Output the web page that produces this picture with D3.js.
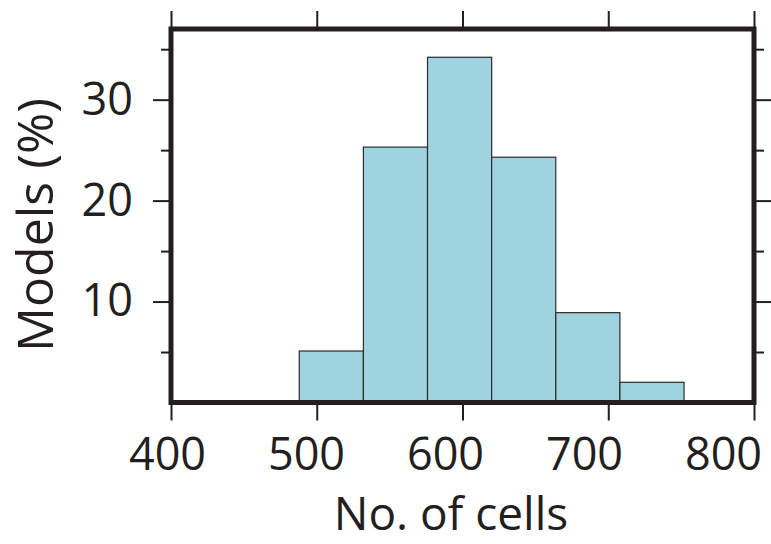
<!DOCTYPE html>
<html>
<head>
<meta charset="utf-8">
<script src="https://cdn.jsdelivr.net/npm/d3@7"></script>
<style>
  html, body { margin: 0; padding: 0; background: #fff; }
  svg { display: block; }
  text { font-family: "Open Sans", "Noto Sans", sans-serif; fill: #231f20; }
</style>
</head>
<body>
<svg id="chart" width="771" height="544"></svg>
<script>
// Data
const binEdges = [488, 532, 576, 620, 664, 708, 752];
const percentValues = [5.1, 25.3, 34.2, 24.3, 8.9, 2.0];
const xTicks = [400, 500, 600, 700, 800];
const yMajorTicks = [10, 20, 30];
const yMinorTicks = [5, 15, 25, 35];
const xLabel = "No. of cells";
const yLabel = "Models (%)";

const bins = percentValues.map((v, i) => ({x0: binEdges[i], x1: binEdges[i + 1], v}));

const svg = d3.select("#chart");
const pLeft = 171, pRight = 754, pTop = 29, pBottom = 402.5;
const x = d3.scaleLinear().domain([400, 800]).range([pLeft, pRight]);
// tick labels in the reference are laid out slightly tighter than the ticks
const xLab = d3.scaleLinear().domain([400, 800]).range([167, 723]);
const y = d3.scaleLinear().domain([0, 37]).range([pBottom, pTop]);
const ink = "#231f20";

// Bars
svg.append("g").selectAll("rect").data(bins).join("rect")
  .attr("x", d => x(d.x0))
  .attr("y", d => y(d.v))
  .attr("width", d => x(d.x1) - x(d.x0))
  .attr("height", d => y(0) - y(d.v))
  .attr("fill", "#9fd3e0")
  .attr("stroke", "#2b2b2b")
  .attr("stroke-width", 1.2);

function styleAxis(g) {
  g.select(".domain").remove();
  g.selectAll(".tick line").attr("stroke", ink).attr("stroke-width", 2);
}

// Bottom axis (labels)
const gb = svg.append("g").attr("transform", `translate(0,${pBottom + 2})`)
  .call(d3.axisBottom(x).tickValues(xTicks).tickSize(16).tickPadding(18).tickFormat(d3.format("d")));
styleAxis(gb);
gb.selectAll(".tick text")
  .attr("x", d => xLab(d) - x(d))
  .attr("font-size", 45).attr("fill", ink)
  .style("font-family", '"Open Sans", sans-serif');

// Top axis (ticks only)
const gt = svg.append("g").attr("transform", `translate(0,${pTop - 2})`)
  .call(d3.axisTop(x).tickValues(xTicks).tickSize(16).tickFormat(""));
styleAxis(gt);

// Left axis major with labels
const gl = svg.append("g").attr("transform", `translate(${pLeft - 2},0)`)
  .call(d3.axisLeft(y).tickValues(yMajorTicks).tickSize(16).tickPadding(20).tickFormat(d3.format("d")));
styleAxis(gl);
gl.selectAll(".tick text").attr("font-size", 45).attr("fill", ink)
  .style("font-family", '"Open Sans", sans-serif');
const glm = svg.append("g").attr("transform", `translate(${pLeft - 2},0)`)
  .call(d3.axisLeft(y).tickValues(yMinorTicks).tickSize(8).tickFormat(""));
styleAxis(glm);

// Right axis
const gr = svg.append("g").attr("transform", `translate(${pRight + 2},0)`)
  .call(d3.axisRight(y).tickValues(yMajorTicks).tickSize(16).tickFormat(""));
styleAxis(gr);
const grm = svg.append("g").attr("transform", `translate(${pRight + 2},0)`)
  .call(d3.axisRight(y).tickValues(yMinorTicks).tickSize(8).tickFormat(""));
styleAxis(grm);

// Frame
svg.append("rect")
  .attr("x", pLeft).attr("y", pTop)
  .attr("width", pRight - pLeft).attr("height", pBottom - pTop)
  .attr("fill", "none").attr("stroke", ink).attr("stroke-width", 5);

// Axis titles
svg.append("text")
  .attr("x", 451).attr("y", 530)
  .attr("text-anchor", "middle")
  .attr("font-size", 46)
  .text(xLabel);

svg.append("text")
  .attr("transform", "translate(53,225) rotate(-90)")
  .attr("text-anchor", "middle")
  .attr("font-size", 50)
  .text(yLabel);
</script>
</body>
</html>
